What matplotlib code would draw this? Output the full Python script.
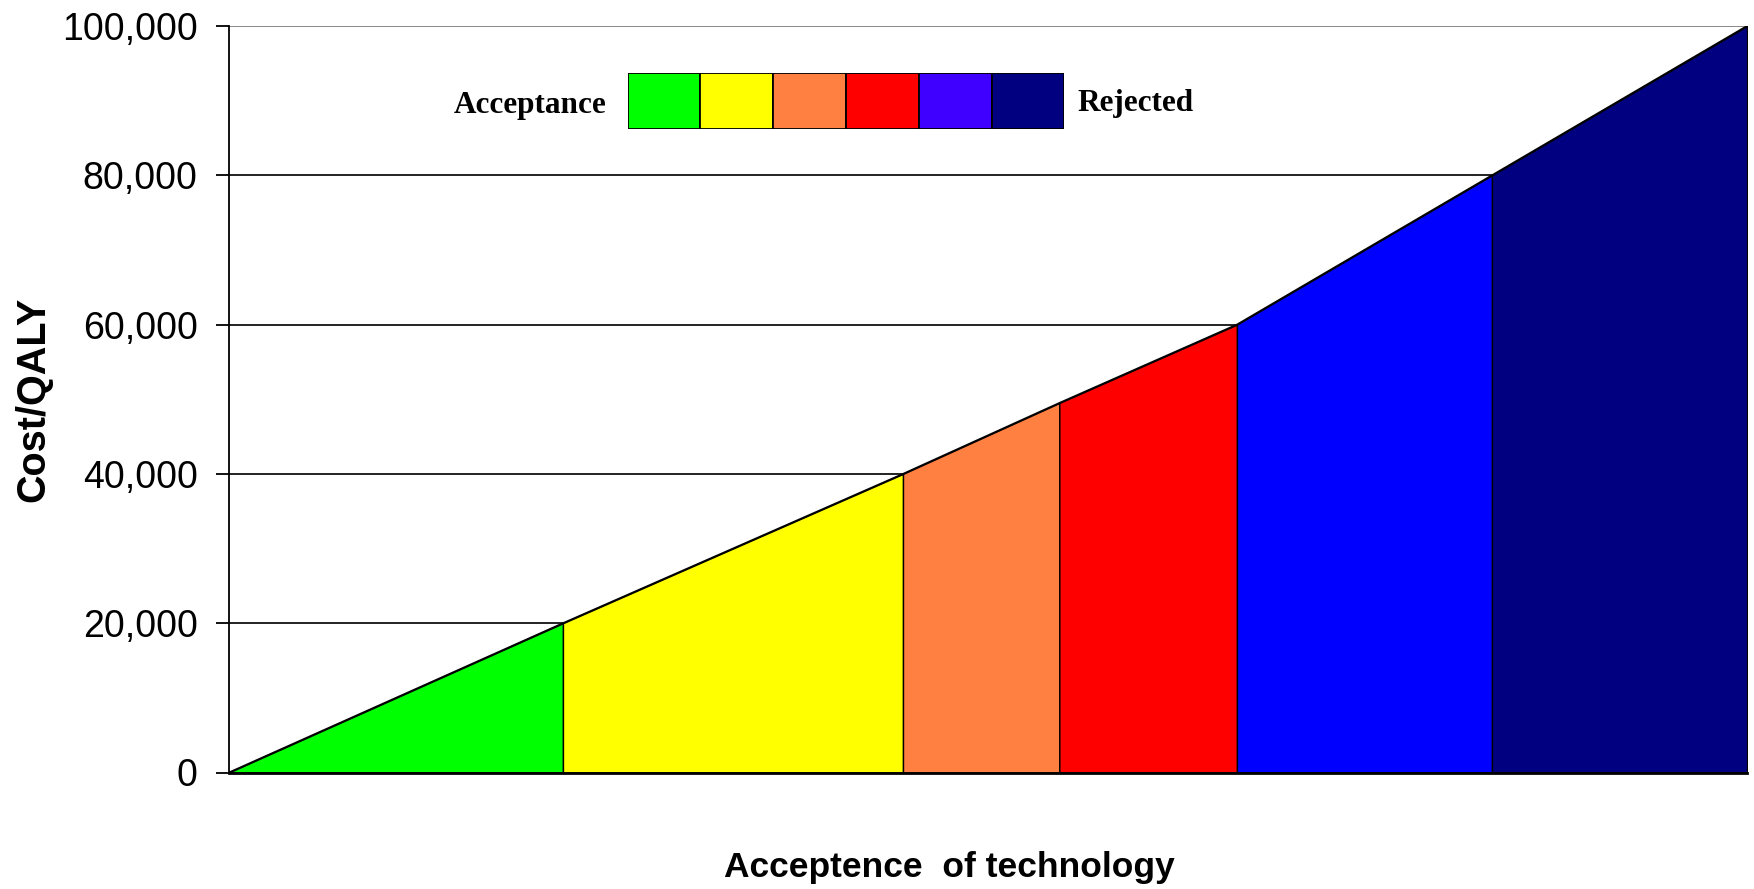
import matplotlib
matplotlib.use("Agg")
import matplotlib.pyplot as plt
from matplotlib.ticker import FuncFormatter

# Cost-effectiveness bands along the acceptance axis
band_x = [0, 22.0, 44.4, 54.7, 66.4, 83.2, 100.0]
band_cost = [0, 20000, 40000, 49500, 60000, 80000, 100000]
band_colors = ["#00FF00", "#FFFF00", "#FF8040", "#FF0000", "#0000FF", "#000080"]

# Colour key from acceptance to rejection
key_colors = ["#00FF00", "#FFFF00", "#FF8040", "#FF0000", "#4000FF", "#000080"]
key_left_label = "Acceptance"
key_right_label = "Rejected"

y_ticks = [0, 20000, 40000, 60000, 80000, 100000]
x_label = "Acceptence  of technology"
y_label = "Cost/QALY"

W, H, DPI = 1754, 889, 100
fig = plt.figure(figsize=(W / DPI, H / DPI), dpi=DPI)
fig.patch.set_facecolor("white")

ax_l, ax_r, ax_t, ax_b = 229, 1747, 26, 772.5
ax = fig.add_axes([ax_l / W, 1 - ax_b / H, (ax_r - ax_l) / W, (ax_b - ax_t) / H])

ax.set_xlim(band_x[0], band_x[-1])
ax.set_ylim(0, 100000)

# horizontal gridlines
for yv in y_ticks[1:]:
    ax.axhline(yv, color="#222222" if yv < 100000 else "#888888",
               lw=1.4, zorder=1)

# coloured bands under the cost line
for i in range(len(band_colors)):
    xs = [band_x[i], band_x[i + 1]]
    ys = [band_cost[i], band_cost[i + 1]]
    ax.fill_between(xs, [0, 0], ys, facecolor=band_colors[i],
                    edgecolor="black", linewidth=1.0, zorder=2)
ax.plot(band_x, band_cost, color="black", lw=1.3, zorder=3)

for side in ["top", "right"]:
    ax.spines[side].set_visible(False)
ax.spines["left"].set_color("black")
ax.spines["left"].set_linewidth(1.3)
ax.spines["bottom"].set_color("black")
ax.spines["bottom"].set_linewidth(2.0)
ax.spines["bottom"].set_zorder(4)

ax.set_xticks([])
ax.set_yticks(y_ticks)
ax.yaxis.set_major_formatter(FuncFormatter(lambda v, p: f"{int(v):,}"))
ax.tick_params(axis="y", direction="out", length=9.5, width=1.3, pad=13,
               labelsize=27, colors="black")
for lab in ax.get_yticklabels():
    lab.set_family("Liberation Sans")

ax.set_ylabel(y_label, fontsize=28.5, fontweight="bold",
              family="Liberation Sans", va="center", ha="center")
ax.yaxis.set_label_coords((33 - ax_l) / (ax_r - ax_l), 0.5)
ax.set_xlabel(x_label, fontsize=25.5, fontweight="bold",
              family="Liberation Sans", va="center", ha="center")
ax.xaxis.set_label_coords((949 - ax_l) / (ax_r - ax_l),
                          (ax_b - 868) / (ax_b - ax_t))

# colour key
kx0, kx1, ky0, ky1 = 627.7, 1064.3, 72.7, 129.3
kax = fig.add_axes([kx0 / W, 1 - ky1 / H, (kx1 - kx0) / W, (ky1 - ky0) / H])
kax.bar(range(len(key_colors)), [1] * len(key_colors), width=1.0,
        color=key_colors, edgecolor="black", linewidth=1.3, align="edge")
kax.set_xlim(0, len(key_colors))
kax.set_ylim(0, 1)
kax.axis("off")

fig.text(607 / W, 1 - 106 / H, key_left_label, ha="right", va="center",
         fontsize=22.5, fontweight="bold", family="Liberation Serif")
fig.text(1077 / W, 1 - 104 / H, key_right_label, ha="left", va="center",
         fontsize=22.5, fontweight="bold", family="Liberation Serif")

fig.savefig("out.png", dpi=DPI, facecolor="white")
